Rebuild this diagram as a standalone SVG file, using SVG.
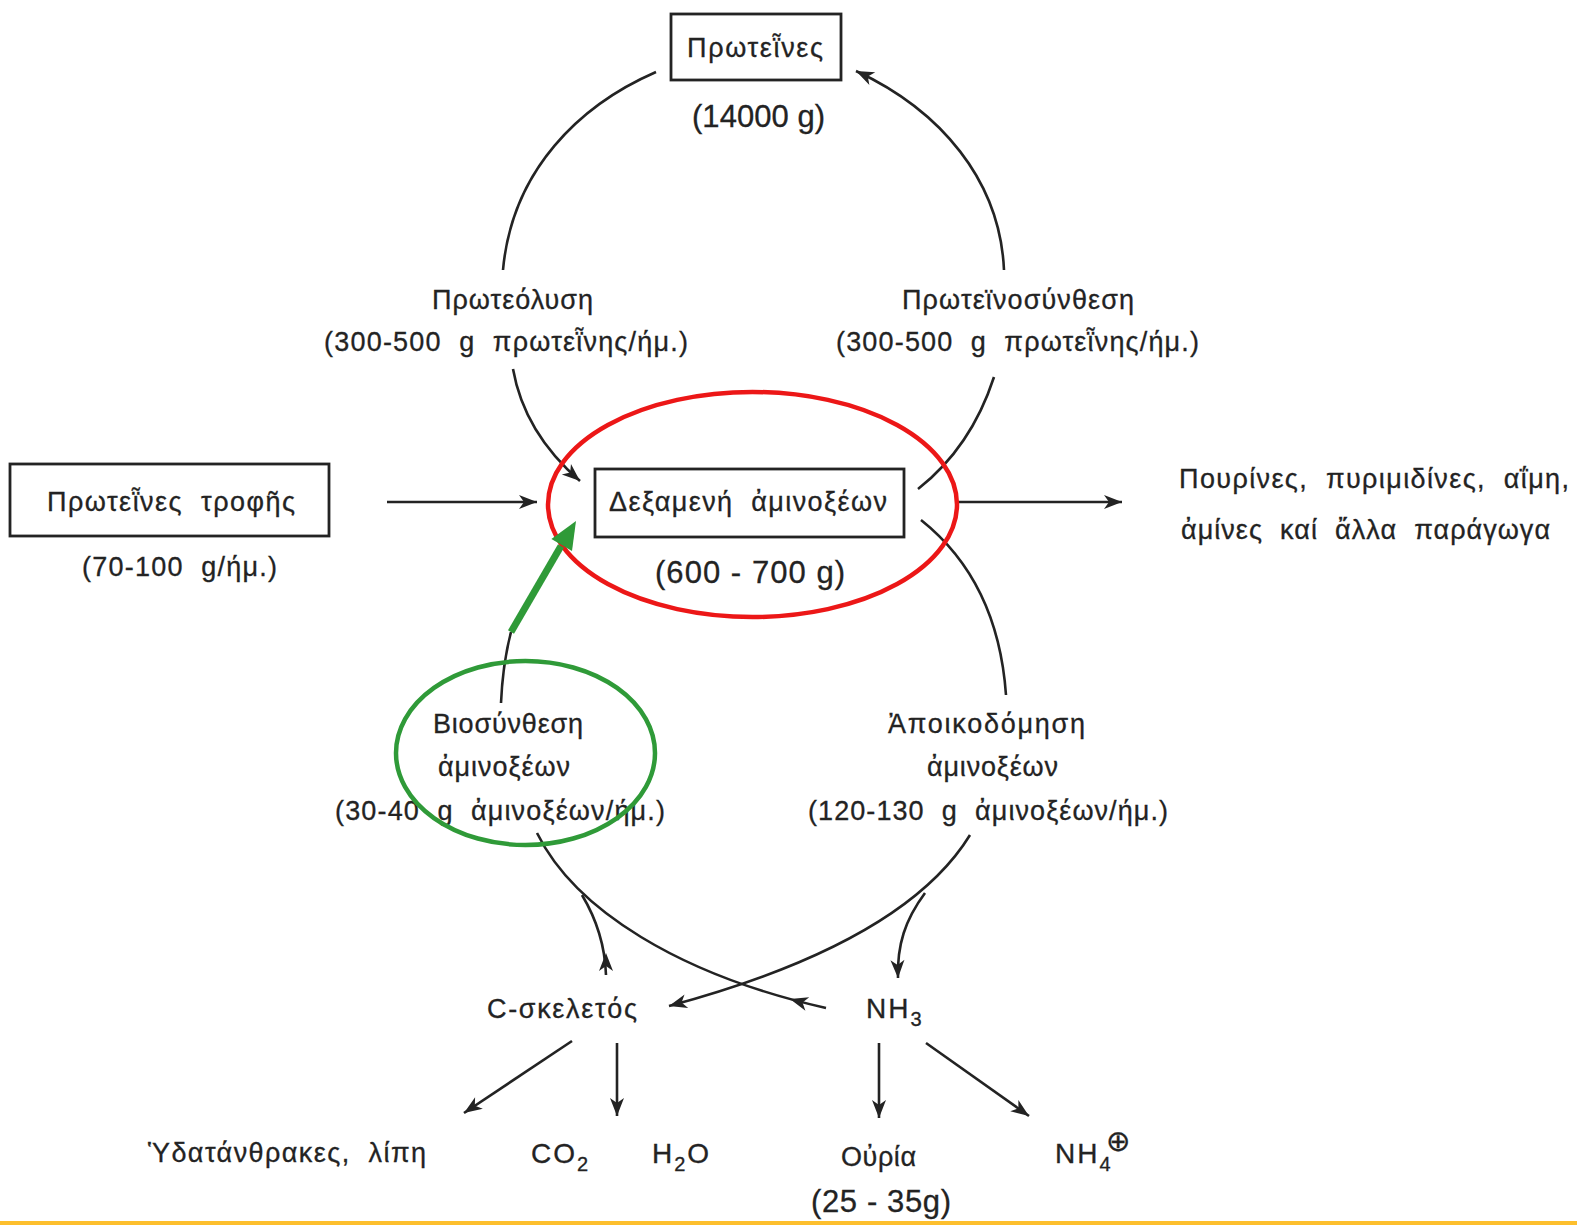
<svg xmlns="http://www.w3.org/2000/svg" width="1577" height="1225" viewBox="0 0 1577 1225">
  <style>
    .t { font-family: "Liberation Sans", "DejaVu Sans", sans-serif; font-size: 27px; fill: #232323; stroke: #232323; stroke-width: 0.3; white-space: pre; }
    .n { font-size: 31px; }
    .c { font-size: 28px; letter-spacing: 2px; }
    .box { fill: none; stroke: #232323; stroke-width: 2.8; }
    .ln { fill: none; stroke: #232323; stroke-width: 2.6; }
    .head { fill: #232323; }
  </style>
  <defs>
    <path id="ah" d="M0,0 L-18,-7 L-13,0 L-18,7 Z"/>
    <marker id="arr" viewBox="-19 -8 20 16" refX="0" refY="0" markerUnits="userSpaceOnUse" markerWidth="20" markerHeight="16" orient="auto">
      <path d="M0,0 L-18,-7 L-13,0 L-18,7 Z" fill="#232323"/>
    </marker>
  </defs>

  <rect width="1577" height="1225" fill="#ffffff"/>

  <!-- connectors -->
  <g id="connectors">
    <!-- proteolysis: protein store down to pool -->
    <path class="ln" d="M656,72 C580,105 512,170 503,270"/>
    <path class="ln" d="M513,369 C522,420 550,455 580,481" marker-end="url(#arr)"/>
    <!-- protein synthesis: pool up to protein store -->
    <path class="ln" d="M918,489 C955,460 980,420 994,377"/>
    <path class="ln" d="M1004,270 C1000,180 940,110 856,71" marker-end="url(#arr)"/>
    <!-- dietary input and side products -->
    <line class="ln" x1="387" y1="502" x2="537" y2="502" marker-end="url(#arr)"/>
    <line class="ln" x1="958" y1="502" x2="1122" y2="502" marker-end="url(#arr)"/>
    <!-- degradation branch -->
    <path class="ln" d="M921,520 C965,555 1000,610 1006,695"/>
    <path class="ln" d="M970,835 C930,900 840,960 669,1006" marker-end="url(#arr)"/>
    <path class="ln" d="M925,893 C905,920 897,945 898,978" marker-end="url(#arr)"/>
    <!-- biosynthesis branch -->
    <path class="ln" d="M501,703 C502,680 505,655 511,632"/>
    <path class="ln" d="M537,833 C575,910 680,975 826,1008"/>
    <use href="#ah" class="head" transform="translate(790,999) rotate(195.8)"/>
    <path class="ln" d="M582,895 C597,920 605,945 606,975"/>
    <use href="#ah" class="head" transform="translate(606,953) rotate(-90)"/>
    <!-- end products -->
    <line class="ln" x1="572" y1="1041" x2="464" y2="1113" marker-end="url(#arr)"/>
    <line class="ln" x1="617" y1="1043" x2="617" y2="1116" marker-end="url(#arr)"/>
    <line class="ln" x1="879" y1="1043" x2="879" y2="1118" marker-end="url(#arr)"/>
    <line class="ln" x1="926" y1="1043" x2="1029" y2="1116" marker-end="url(#arr)"/>
  </g>

  <!-- nodes -->
  <g id="proteins">
    <rect class="box" x="671" y="14" width="170" height="66"/>
    <text class="t" x="687" y="57" textLength="136">Πρωτεῗνες</text>
    <text class="t n" x="692" y="127" textLength="133">(14000 g)</text>
  </g>

  <g id="proteolysis">
    <text class="t" x="432" y="309" textLength="161">Πρωτεόλυση</text>
    <text class="t" x="324" y="351" textLength="364">(300-500  g  πρωτεῗνης/ήμ.)</text>
  </g>

  <g id="protein-synthesis">
    <text class="t" x="902" y="309" textLength="232">Πρωτεϊνοσύνθεση</text>
    <text class="t" x="836" y="351" textLength="363">(300-500  g  πρωτεῗνης/ήμ.)</text>
  </g>

  <g id="dietary-protein">
    <rect class="box" x="10" y="464" width="319" height="72"/>
    <text class="t" x="47" y="511" textLength="248">Πρωτεῗνες  τροφῆς</text>
    <text class="t" x="82" y="576" textLength="195">(70-100  g/ήμ.)</text>
  </g>

  <g id="amino-acid-pool">
    <rect class="box" x="595" y="469" width="309" height="68"/>
    <text class="t" x="609" y="511" textLength="278">Δεξαμενή  ἀμινοξέων</text>
    <text class="t n" x="655" y="583" textLength="190">(600 - 700 g)</text>
  </g>

  <g id="derived-products">
    <text class="t" x="1179" y="488" textLength="390">Πουρίνες,  πυριμιδίνες,  αΐμη,</text>
    <text class="t" x="1181" y="539" textLength="369">ἀμίνες  καί  ἄλλα  παράγωγα</text>
  </g>

  <g id="biosynthesis">
    <text class="t" x="433" y="733" textLength="150">Βιοσύνθεση</text>
    <text class="t" x="438" y="776" textLength="132">ἀμινοξέων</text>
    <text class="t" x="335" y="820" textLength="330">(30-40  g  ἀμινοξέων/ήμ.)</text>
  </g>

  <g id="degradation">
    <text class="t" x="888" y="733" textLength="197">Ἀποικοδόμηση</text>
    <text class="t" x="927" y="776" textLength="131">ἀμινοξέων</text>
    <text class="t" x="808" y="820" textLength="360">(120-130  g  ἀμινοξέων/ήμ.)</text>
  </g>

  <g id="carbon-skeleton">
    <text class="t" x="487" y="1018" textLength="150">C-σκελετός</text>
  </g>

  <g id="ammonia">
    <text class="t c" x="866" y="1018">NH<tspan dy="8" style="font-size:20px">3</tspan></text>
  </g>

  <g id="carbohydrates-lipids">
    <text class="t" x="148" y="1162" textLength="278">Ὑδατάνθρακες,  λίπη</text>
  </g>

  <g id="co2-h2o">
    <text class="t c" x="531" y="1163">CO<tspan dy="8" style="font-size:20px">2</tspan></text>
    <text class="t c" x="652" y="1163">H<tspan dy="8" style="font-size:20px">2</tspan><tspan dy="-8">O</tspan></text>
  </g>

  <g id="urea">
    <text class="t" x="841" y="1166" textLength="75">Οὐρία</text>
    <text class="t n" x="811" y="1212" textLength="140">(25 - 35g)</text>
  </g>

  <g id="ammonium">
    <text class="t c" x="1055" y="1163">NH<tspan dy="8" style="font-size:20px">4</tspan><tspan x="1106" dy="-20" style="font-size:29px;letter-spacing:0">⊕</tspan></text>
  </g>

  <!-- highlight marks -->
  <g id="highlights">
    <ellipse cx="752.5" cy="504.5" rx="204.5" ry="112.5" fill="none" stroke="#ec1717" stroke-width="4.5"/>
    <ellipse cx="525.5" cy="753" rx="129.5" ry="92" fill="none" stroke="#2f9a38" stroke-width="4.5"/>
    <line x1="511" y1="632" x2="561" y2="546" stroke="#2f9a38" stroke-width="7"/>
    <polygon points="576,521 551.4,538.9 572,551.1" fill="#2f9a38"/>
  </g>

  <rect x="0" y="1221" width="1577" height="4" fill="#fdbf2d"/>
</svg>
